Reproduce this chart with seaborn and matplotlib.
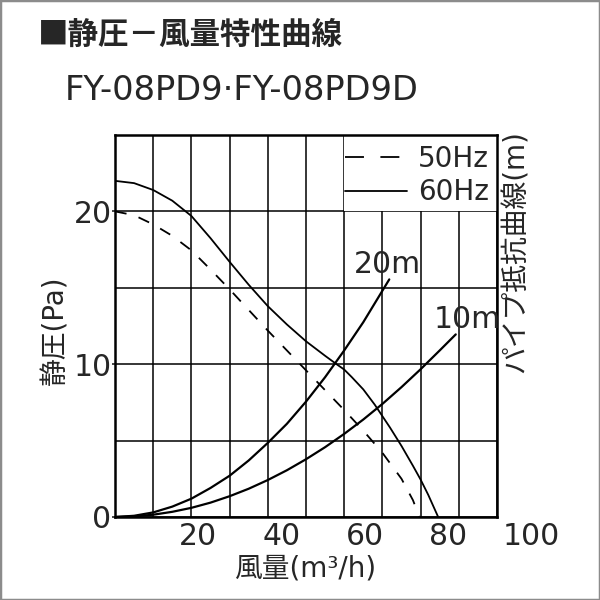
import matplotlib
matplotlib.use('Agg')
import matplotlib.pyplot as plt
from matplotlib.lines import Line2D
from matplotlib.patches import Rectangle
import seaborn as sns
import pandas as pd

# 静圧－風量特性 (読み取り値)
hz60_airflow = [0, 5, 10, 15, 20, 25, 30, 35, 40, 45, 50, 55, 58, 60, 62, 65, 68, 70, 72, 75, 78, 80, 82, 84.6]
hz60_pressure = [22.0, 21.85, 21.4, 20.7, 19.7, 18.25, 16.7, 15.2, 13.8, 12.6, 11.5, 10.55, 10.0, 9.65, 9.15, 8.35, 7.35, 6.6, 5.85, 4.65, 3.35, 2.45, 1.45, 0.0]
hz50_airflow = [0, 5, 10, 15, 20, 25, 30, 35, 40, 45, 50, 55, 60, 65, 70, 75, 78, 79.7]
hz50_pressure = [20.0, 19.75, 19.15, 18.4, 17.45, 16.2, 14.9, 13.55, 12.2, 10.9, 9.6, 8.3, 7.0, 5.65, 4.2, 2.5, 1.1, 0.0]

# パイプ抵抗曲線
pipe20_airflow = [0, 5, 10, 15, 20, 25, 30, 35, 40, 45, 50, 55, 60, 65, 71.8]
pipe20_pressure = [0, 0.08, 0.3, 0.68, 1.2, 1.9, 2.7, 3.7, 4.85, 6.1, 7.55, 9.15, 10.9, 12.75, 15.55]
pipe10_airflow = [0, 5, 10, 15, 20, 25, 30, 35, 40, 45, 50, 55, 60, 65, 70, 75, 80, 85, 89.2]
pipe10_pressure = [0, 0.04, 0.15, 0.34, 0.6, 0.94, 1.36, 1.85, 2.42, 3.06, 3.78, 4.57, 5.44, 6.38, 7.4, 8.5, 9.67, 10.9, 11.95]

x_tick_values = [20, 40, 60, 80, 100]
y_tick_values = [0, 10, 20]

curves = pd.concat([
    pd.DataFrame({'風量': hz60_airflow, '静圧': hz60_pressure, '曲線': '60Hz'}),
    pd.DataFrame({'風量': hz50_airflow, '静圧': hz50_pressure, '曲線': '50Hz'}),
    pd.DataFrame({'風量': pipe20_airflow, '静圧': pipe20_pressure, '曲線': '20m'}),
    pd.DataFrame({'風量': pipe10_airflow, '静圧': pipe10_pressure, '曲線': '10m'}),
], ignore_index=True)

sns.set_style('white')
plt.rcParams['font.family'] = ['DejaVu Sans', 'Noto Sans CJK JP']

fig = plt.figure(figsize=(6, 6), dpi=100)
ax = fig.add_axes([115 / 600, 83 / 600, 382 / 600, 382 / 600])

DASH = (6.5, 7)
for name, style in [('60Hz', '-'), ('50Hz', '--'), ('20m', '-'), ('10m', '-')]:
    sub = curves[curves['曲線'] == name]
    lw = 1.3 if name in ('60Hz', '50Hz') else 1.6
    sns.lineplot(data=sub, x='風量', y='静圧', ax=ax, color='black', lw=lw,
                 sort=False, estimator=None, legend=False, zorder=3)
    ax.lines[-1].set_solid_joinstyle('round')
    if style == '--':
        ax.lines[-1].set_dashes(DASH)

ax.set_xlim(0, 100)
ax.set_ylim(0, 25)
ax.set_xticks(range(0, 101, 10))
ax.set_xticklabels([])
ax.set_yticks(y_tick_values)
ax.set_yticks([5, 15], minor=True)
ax.set_yticklabels([str(v) for v in y_tick_values], fontsize=21.5)
ax.tick_params(axis='x', length=0)
ax.tick_params(axis='y', which='major', direction='out', length=2.5, width=1.2, pad=0, left=True)
ax.tick_params(axis='y', which='minor', length=0)
ax.set_axisbelow(True)
ax.grid(True, which='both', color='black', lw=1.1)
for sp in ax.spines.values():
    sp.set_color('black')
    sp.set_linewidth(1.8)
ax.set_xlabel('')
ax.set_ylabel('')

# 凡例の背景
ax.add_patch(Rectangle((60, 20), 40, 5, facecolor='white', edgecolor='none', zorder=1))
handles = [Line2D([], [], color='black', lw=1.3, dashes=(10.5, 9.1)),
           Line2D([], [], color='black', lw=1.3)]
ax.legend(handles, ['50Hz', '60Hz'], loc='upper right', bbox_to_anchor=(1.005, 1.0),
          frameon=False, fontsize=20, handlelength=2.2, handletextpad=0.42,
          labelspacing=0.2, borderpad=0.35, borderaxespad=0)

# x 目盛ラベル
for v in x_tick_values:
    ax.text(v * 1.09, -0.05, str(v), transform=ax.get_xaxis_transform(),
            ha='center', va='center', fontsize=21.5, clip_on=False)

ax.text(71.3, 16.5, '20m', ha='center', va='center', fontsize=21.5)
ax.text(92.1, 12.95, '10m', ha='center', va='center', fontsize=21.5, clip_on=False)

fig.text(305 / 600, 1 - 568 / 600, '風量(m³/h)', ha='center', va='center', fontsize=20)
fig.text(55 / 600, 1 - 330 / 600, '静圧(Pa)', ha='center', va='center', fontsize=20, rotation=90)
fig.text(516 / 600, 1 - 252 / 600, 'パイプ抵抗曲線(m)', ha='center', va='center', fontsize=20, rotation=90)

fig.text(38 / 600, 1 - 35 / 600, '■静圧－風量特性曲線', ha='left', va='center', fontsize=22,
         family=['Noto Sans CJK JP'], weight='bold')
fig.text(65 / 600, 1 - 90 / 600, 'FY-08PD9·FY-08PD9D', ha='left', va='center', fontsize=24.3)

fig.add_artist(Rectangle((0, 0), 1, 1, transform=fig.transFigure, fill=False,
                         edgecolor='#8c8c8c', lw=2.5))

fig.savefig('out.png', dpi=100, facecolor='white')
